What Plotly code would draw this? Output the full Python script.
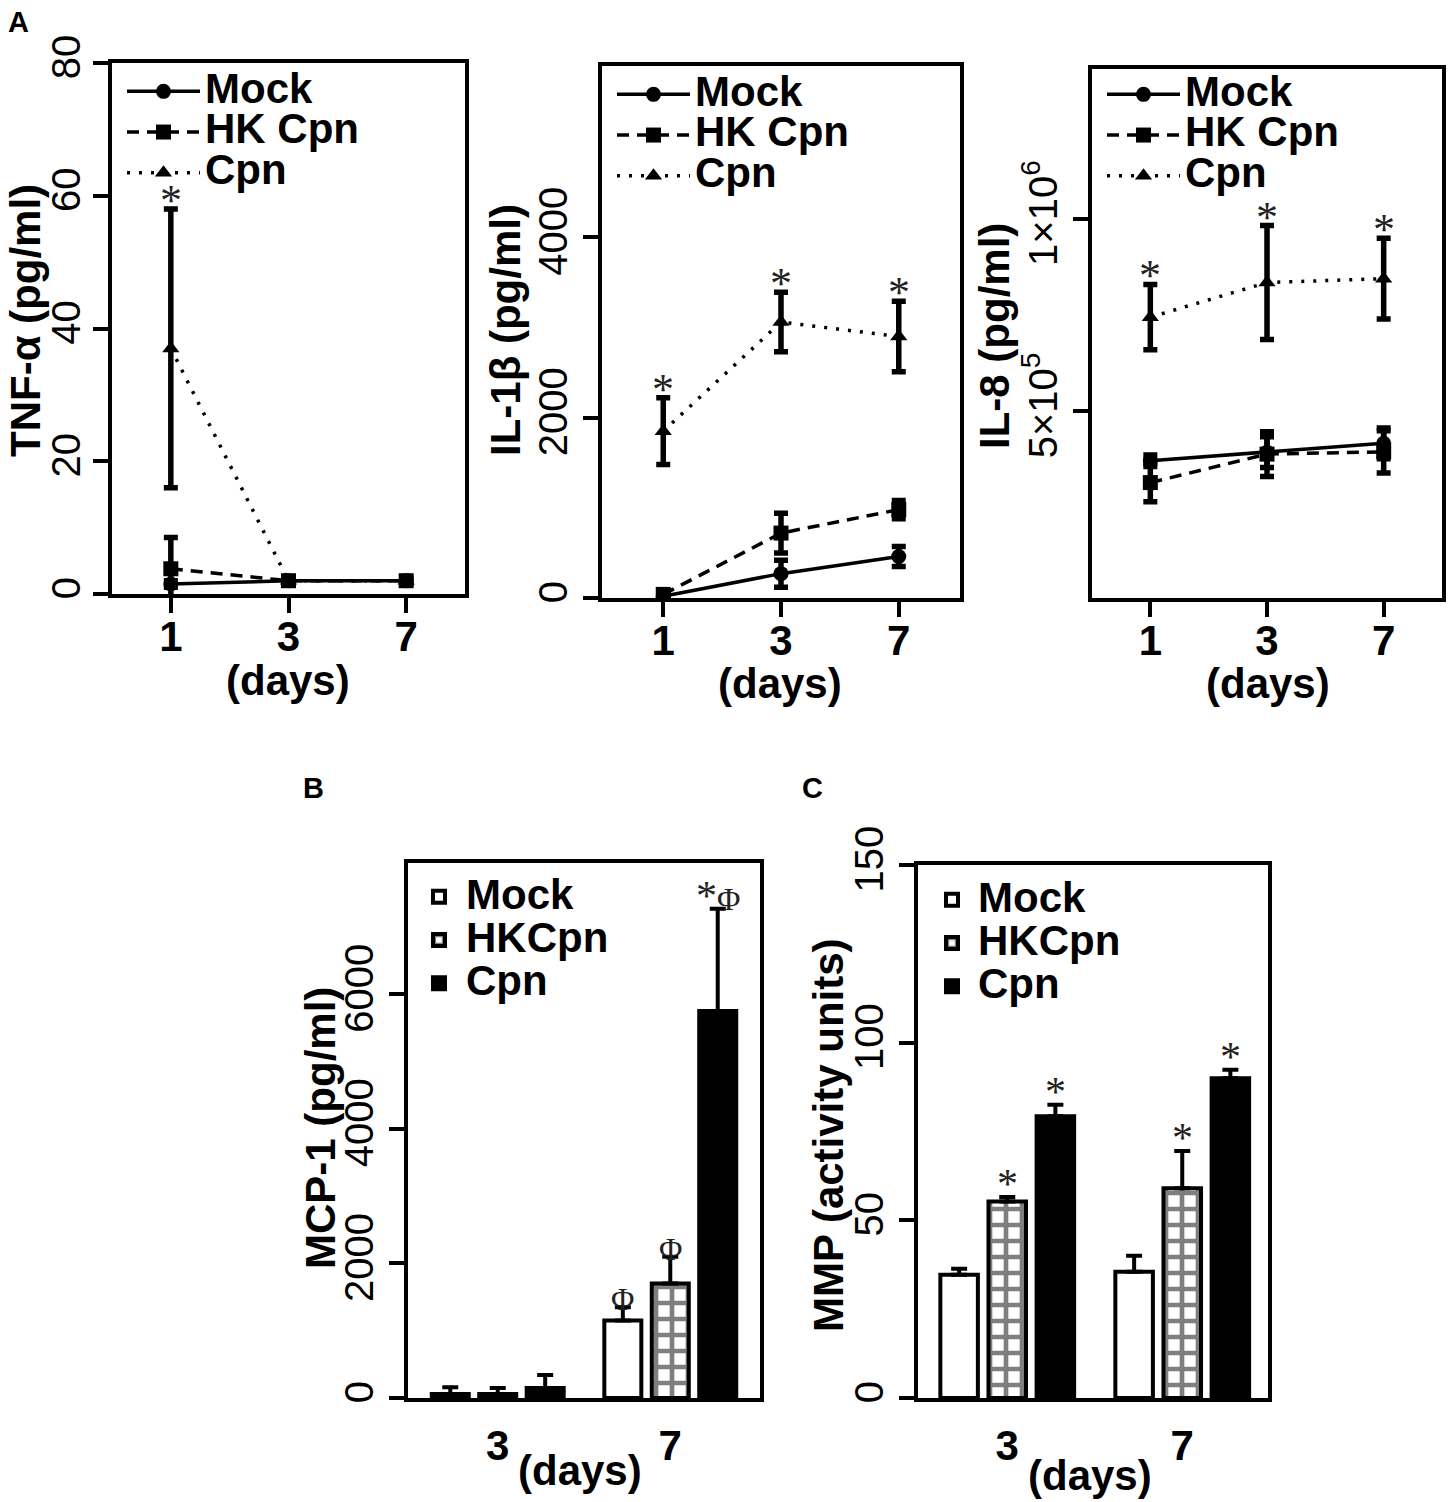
import plotly.graph_objects as go

W, H = 1450, 1502
FONT = "Liberation Sans, Arial, sans-serif"

# ---- data ----
days = ["1", "3", "7"]
bar_days = ["3", "7"]
line_names = ["Mock", "HK Cpn", "Cpn"]
bar_names = ["Mock", "HKCpn", "Cpn"]

tnf_mock = [1.5, 2.0, 2.0]
tnf_mock_err = [0.5, 0.4, 0.4]
tnf_hk = [3.8, 2.0, 2.0]
tnf_hk_err = [4.7, 0.4, 0.4]
tnf_cpn = [37.0, 2.0, 2.0]
tnf_cpn_err = [21.0, 0.4, 0.4]
tnf_star = ["*", "", ""]

il1b_mock = [20, 270, 460]
il1b_mock_err = [30, 150, 110]
il1b_hk = [40, 720, 980]
il1b_hk_err = [40, 220, 100]
il1b_cpn = [1850, 3060, 2900]
il1b_cpn_err = [370, 330, 390]
il1b_star = ["*", "*", "*"]

il8_mock = [372000, 394000, 417000]
il8_mock_err = [15000, 40000, 40000]
il8_hk = [315000, 389000, 395000]
il8_hk_err = [50000, 58000, 55000]
il8_cpn = [745000, 835000, 845000]
il8_cpn_err = [85000, 148000, 105000]
il8_star = ["*", "*", "*"]
il8_ticks = [500000, 1000000]
il8_ticktext = ["5×10<sup>5</sup>", "1×10<sup>6</sup>"]

mcp_mock = [60, 1150]
mcp_mock_err = [100, 200]
mcp_hk = [60, 1700]
mcp_hk_err = [90, 400]
mcp_cpn = [150, 5750]
mcp_cpn_err = [190, 1520]
mcp_marks = [["", "Φ"], ["", "Φ"], ["", "*Φ"]]

mmp_mock = [34.7, 35.5]
mmp_mock_err = [1.7, 4.5]
mmp_hk = [55.3, 59.0]
mmp_hk_err = [1.3, 10.5]
mmp_cpn = [79.3, 90.0]
mmp_cpn_err = [3.2, 2.4]
mmp_marks = [["", ""], ["*", "*"], ["*", "*"]]

BARGAP = 0.175


def px(x):
    return x / W


def py(y):
    return 1 - y / H


fig = go.Figure()

line_styles = [("solid", "circle"), ("12px,8px", "square"), ("3px,9px", "triangle-up")]


def add_lines(series, errs, xa, ya, leg):
    for name, y, e, (dash, sym) in zip(line_names, series, errs, line_styles):
        fig.add_trace(go.Scatter(
            x=days, y=y, name='<span style="font-size:42px">%s</span>' % name,
            mode="lines+markers",
            line=dict(color="black", width=3.5, dash=dash),
            marker=dict(symbol=sym, size=15, color="black"),
            error_y=dict(type="data", array=e, thickness=5.5, width=7, color="black"),
            xaxis=xa, yaxis=ya, legend=leg))


def add_bars(series, errs, xa, ya, leg):
    fills = [dict(color="white"),
             dict(color="white", pattern=dict(shape="+", fgcolor="black", bgcolor="white",
                                              size=16, solidity=0.5)),
             dict(color="black")]
    for name, y, e, mk in zip(bar_names, series, errs, fills):
        mk = dict(mk, line=dict(color="black", width=4))
        fig.add_trace(go.Bar(
            x=bar_days, y=y, name='<span style="font-size:42px">%s</span>' % name,
            marker=mk,
            error_y=dict(type="data", symmetric=False, array=e, arrayminus=[0] * len(e),
                         thickness=4, width=8, color="black"),
            xaxis=xa, yaxis=ya, legend=leg))


add_lines([tnf_mock, tnf_hk, tnf_cpn], [tnf_mock_err, tnf_hk_err, tnf_cpn_err], "x", "y", "legend")
add_lines([il1b_mock, il1b_hk, il1b_cpn], [il1b_mock_err, il1b_hk_err, il1b_cpn_err], "x2", "y2", "legend2")
add_lines([il8_mock, il8_hk, il8_cpn], [il8_mock_err, il8_hk_err, il8_cpn_err], "x3", "y3", "legend3")
add_bars([mcp_mock, mcp_hk, mcp_cpn], [mcp_mock_err, mcp_hk_err, mcp_cpn_err], "x4", "y4", "legend4")
add_bars([mmp_mock, mmp_hk, mmp_cpn], [mmp_mock_err, mmp_hk_err, mmp_cpn_err], "x5", "y5", "legend5")

# ---- axes ----
box = dict(showline=True, linecolor="black", linewidth=4, mirror=True,
           showgrid=False, zeroline=False)


def xax(x0, x1, anchor, rng, ticked=True):
    d = dict(box, domain=[px(x0), px(x1)], anchor=anchor, type="category", range=rng,
             tickfont=dict(family=FONT, size=42, color="black", weight="bold"))
    if ticked:
        d.update(ticks="outside", ticklen=15, tickwidth=4, tickcolor="black",
                 ticklabelstandoff=-12)
    else:
        d.update(ticks="", ticklabelstandoff=8)
    return d


def yax(y0, y1, anchor, rng, **kw):
    d = dict(box, domain=[py(y1), py(y0)], anchor=anchor, range=rng,
             ticks="outside", ticklen=15, tickwidth=4, tickcolor="black", tickangle=-90,
             tickfont=dict(family=FONT, size=40, color="black"))
    d.update(kw)
    return d


fig.update_layout(
    xaxis=xax(112, 465, "y", [-0.5, 2.5]),
    yaxis=yax(63, 594, "x", [0, 80], dtick=20, ticklabelstandoff=-3),
    xaxis2=xax(602, 960, "y2", [-0.52, 2.52]),
    yaxis2=yax(66, 598, "x2", [0, 5900], tickvals=[0, 2000, 4000]),
    xaxis3=xax(1092, 1442, "y3", [-0.5, 2.5]),
    yaxis3=yax(69, 598, "x3", [15000, 1390000], tickvals=il8_ticks, ticktext=il8_ticktext),
    xaxis4=xax(408, 760, "y4", [-0.52, 1.52], ticked=False),
    yaxis4=yax(863, 1398, "x4", [0, 7950], dtick=2000),
    xaxis5=xax(918, 1268, "y5", [-0.51, 1.49], ticked=False),
    yaxis5=yax(865, 1398, "x5", [0, 150], dtick=50),
)

# ---- legends ----
def leg(x, y, fs, iw):
    return dict(x=px(x), y=py(y), xanchor="left", yanchor="top", bgcolor="rgba(0,0,0,0)",
                font=dict(family=FONT, size=fs, color="black", weight="bold"),
                itemwidth=iw, tracegroupgap=0)


fig.update_layout(
    legend=leg(122, 66, 29, 73),
    legend2=leg(612, 69, 29, 73),
    legend3=leg(1102, 69, 29, 73),
    legend4=leg(412, 870, 31, 44),
    legend5=leg(926, 873, 31, 42),
)

# ---- annotations ----
ann = []
star_font = dict(family="Liberation Serif, serif", size=44, color="#222")


def stars(marks, means, errs, xa, ya):
    for i, (m, mean, e) in enumerate(zip(marks, means, errs)):
        if m:
            ann.append(dict(x=i, y=mean + e, xref=xa, yref=ya, text=m, showarrow=False,
                            yanchor="bottom", yshift=-18, font=star_font))


stars(tnf_star, tnf_cpn, tnf_cpn_err, "x", "y")
stars(il1b_star, il1b_cpn, il1b_cpn_err, "x2", "y2")
stars(il8_star, il8_cpn, il8_cpn_err, "x3", "y3")

slot = (1 - BARGAP) / 3


def bar_marks(marks, series, errs, xa, ya):
    for i, (mk, ys, es) in enumerate(zip(marks, series, errs)):
        for j, (m, v, e) in enumerate(zip(mk, ys, es)):
            if m:
                txt = m.replace("*", '<span style="font-size:42px">*</span>')
                ann.append(dict(x=j + (i - 1) * slot, y=v + e, xref=xa, yref=ya, text=txt,
                                showarrow=False, yanchor="bottom", yshift=-12,
                                font=dict(family="Liberation Serif, serif", size=32, color="#222")))


bar_marks(mcp_marks, [mcp_mock, mcp_hk, mcp_cpn], [mcp_mock_err, mcp_hk_err, mcp_cpn_err], "x4", "y4")
bar_marks(mmp_marks, [mmp_mock, mmp_hk, mmp_cpn], [mmp_mock_err, mmp_hk_err, mmp_cpn_err], "x5", "y5")

title_font = dict(family=FONT, size=42, color="black", weight="bold")
for text, x, y in [("TNF-α (pg/ml)", 25, 321), ("IL-1β (pg/ml)", 505, 330),
                   ("IL-8 (pg/ml)", 995, 336), ("MCP-1 (pg/ml)", 320, 1128),
                   ("MMP (activity units)", 828, 1135)]:
    ann.append(dict(x=px(x), y=py(y), xref="paper", yref="paper", text=text, textangle=-90,
                    showarrow=False, xanchor="center", yanchor="middle", font=title_font))

for x, y in [(288, 680), (780, 683), (1268, 683), (580, 1470), (1090, 1475)]:
    ann.append(dict(x=px(x), y=py(y), xref="paper", yref="paper", text="(days)",
                    showarrow=False, xanchor="center", yanchor="middle", font=title_font))

for text, x, y in [("A", 18, 22), ("B", 313, 788), ("C", 812, 788)]:
    ann.append(dict(x=px(x), y=py(y), xref="paper", yref="paper", text=text, showarrow=False,
                    xanchor="center", yanchor="middle",
                    font=dict(family=FONT, size=29, color="black", weight="bold")))

fig.update_layout(
    width=W, height=H, margin=dict(l=0, r=0, t=0, b=0, autoexpand=False),
    paper_bgcolor="white", plot_bgcolor="white",
    barmode="group", bargap=BARGAP, bargroupgap=0.22,
    annotations=ann, showlegend=True,
)

# the page's default 8px body margin would shift the whole figure
fig.write_html("out.html", config={"displayModeBar": False},
               post_script="document.body.style.margin='0px';")
